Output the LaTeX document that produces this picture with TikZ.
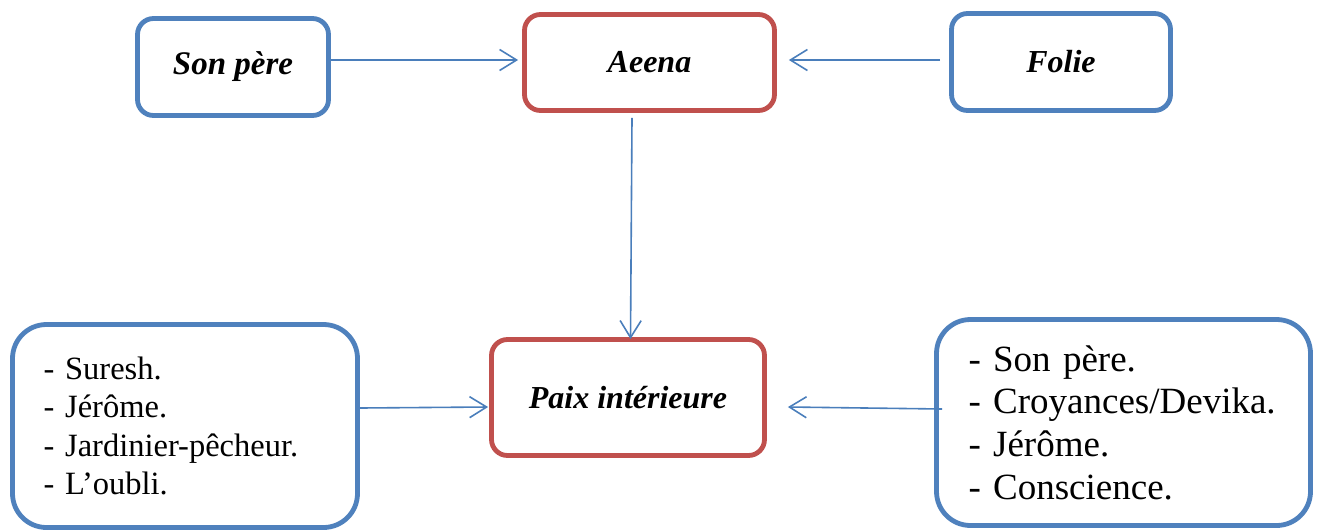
\documentclass[tikz,border=0pt]{standalone}
\usepackage{fontspec}
\setmainfont{Liberation Serif}
\usetikzlibrary{arrows.meta,calc}
\definecolor{boxblue}{HTML}{4F81BD}
\definecolor{boxred}{HTML}{C0504D}
\definecolor{linkblue}{HTML}{4A7EBB}
\tikzset{
  box/.style={draw, line width=4.8pt, rounded corners=16pt, fill=white, inner sep=0pt, align=center},
  bluebox/.style={box, draw=boxblue},
  redbox/.style={box, draw=boxred},
  title/.style={font=\fontsize{32pt}{38pt}\selectfont\bfseries\itshape},
  listbox/.style={bluebox, rounded corners=34pt, align=left},
  conn/.style={draw=linkblue, line width=1.6pt,
    -{Straight Barb[length=17pt,width=21pt,line width=1.6pt]}},
}
\begin{document}
\begin{tikzpicture}[x=1pt,y=-1pt]
\useasboundingbox (0,0) rectangle (1322,531);

% top row
\node[bluebox,title,font=\fontsize{33pt}{38pt}\selectfont\bfseries\itshape,
      minimum width=191pt,minimum height=97pt] (sonpere) at (233,67) {Son père};
\node[redbox,title,minimum width=250pt,minimum height=96pt] (aeena) at (649.5,62.5) {Aeena};
\node[bluebox,title,minimum width=219pt,minimum height=97pt] (folie) at (1061,62) {Folie};

% bottom row
\node[redbox,title,minimum width=273pt,minimum height=116pt] (paix) at (628,397.5) {Paix intérieure};
\node[listbox,minimum width=345pt,minimum height=203pt,text width=283pt,inner xsep=31pt,
      font=\fontsize{32.5pt}{38.3pt}\selectfont] (gauche) at (185,426)
  {- Suresh.\\- Jérôme.\\- Jardinier-pêcheur.\\- L’oubli.};
\node[listbox,minimum width=374pt,minimum height=206pt,text width=310pt,inner xsep=32pt,
      font=\fontsize{37pt}{42.7pt}\selectfont] (droite) at (1123.5,422.5)
  {- Son père.\\- Croyances/Devika.\\- Jérôme.\\- Conscience.};

% connectors
\draw[conn] ($(sonpere.east)+(0,-7)$) -- ($(aeena.west)+(-4,-2.5)$);
\draw[conn] ($(folie.west)+(-9,-2)$) -- ($(aeena.east)+(12,-2.5)$);
\draw[conn] ($(aeena.south)+(-17.5,5)$) -- ($(paix.north)+(2.5,2)$);
\draw[conn] ($(gauche.east)+(0,-18)$) -- ($(paix.west)+(-1,9.5)$);
\draw[conn] ($(droite.west)+(8,-13.5)$) -- ($(paix.east)+(21,9.5)$);
\end{tikzpicture}
\end{document}
